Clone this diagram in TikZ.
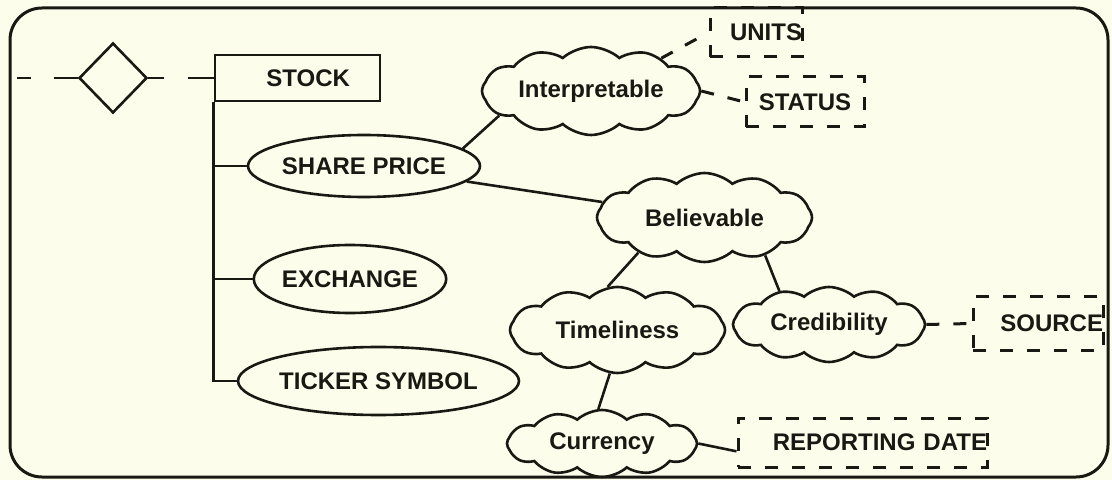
\documentclass[tikz,border=0pt]{standalone}
\usepackage{fontspec}
\setmainfont{Liberation Sans}
\usetikzlibrary{shapes.geometric, shapes.symbols, positioning, calc}
\definecolor{paper}{RGB}{253,253,236}
\definecolor{ink}{RGB}{25,25,20}

\begin{document}
\begin{tikzpicture}[x=0.5pt, y=-0.5pt,
    every node/.style={font=\fontsize{12}{14}\selectfont\bfseries, text=ink},
    entity/.style={draw=ink, line width=1.3pt, inner sep=0pt},
    attr/.style={draw=ink, ellipse, line width=1.3pt, inner sep=0pt},
    blob/.style={draw=ink, cloud, cloud puffs=12, cloud puff arc=85, cloud ignores aspect, line width=1.3pt, inner sep=0pt},
    tag/.style={draw=ink, line width=1.5pt, dash pattern=on 6.5pt off 7pt, inner sep=0pt, align=right},
    link/.style={draw=ink, line width=1.3pt},
    dlink/.style={draw=ink, line width=1.5pt, dash pattern=on 6.5pt off 7pt}]
        % Paper and frame
        \fill[paper] (0,0) rectangle (1112,480);
        \useasboundingbox (0,0) rectangle (1112,480);
        \draw[ink, line width=1.5pt, rounded corners=16pt] (10,8) rectangle (1108,477);

        % Entity with its relationship
        \node[entity, diamond, minimum width=34pt, minimum height=35pt] (rel) at (113,78) {};
        \node[entity, align=right, text width=52.5pt, minimum width=82.5pt, minimum height=23pt] (stock) at (297.5,78) {STOCK};
        \coordinate (lend) at (17,78);
        \draw[link, dash pattern=on 12pt off 11.5pt on 20pt] (rel.west) -- (lend);
        \draw[link, dash pattern=on 8pt off 12pt on 20pt] (rel.east) -- (stock.west);

        % Attributes
        \node[attr, minimum width=109pt, minimum height=31pt] (share) at (364,166) {SHARE PRICE};
        \node[attr, minimum width=90pt, minimum height=34pt] (exch) at (350,279) {EXCHANGE};
        \node[attr, minimum width=118.5pt, minimum height=34pt] (ticker) at (378.5,381) {TICKER SYMBOL};
        \draw[link] (stock.south west) |- (ticker.west);
        \draw[link] (stock.south west |- share.west) -- (share.west);
        \draw[link] (stock.south west |- exch.west) -- (exch.west);

        % Quality clouds
        \node[blob, minimum width=109pt, minimum height=44pt] (interp) at (591,91) {Interpretable};
        \node[blob, minimum width=107.5pt, minimum height=44.5pt] (believ) at (704.5,217.5) {Believable};
        \node[blob, minimum width=107.5pt, minimum height=43pt] (timel) at (617.5,330) {Timeliness};
        \node[blob, minimum width=96pt, minimum height=37.5pt] (cred) at (829,324.5) {Credibility};
        \node[blob, minimum width=95pt, minimum height=33.5pt] (curr) at (602,443.5) {Currency};

        % Quality indicators
        \node[tag, text width=46pt, minimum height=24.5pt] (units) at (756,32.5) {UNITS};
        \node[tag, align=center, text width=59pt, minimum height=25pt] (status) at (805,102) {STATUS};
        \node[tag, text width=65pt, minimum height=26.5pt] (source) at (1038,323.5) {SOURCE};
        \node[tag, text width=124.5pt, minimum height=24.5pt] (report) at (862.5,442.5) {REPORTING DATE};

        % Links
        \draw[link] (share.10) -- (interp.195);
        \draw[link] (share) -- (believ);
        \draw[link] (believ.208) -- (timel.103);
        \draw[link] (believ.328) -- (cred.146);
        \draw[link] (timel.260) -- (curr.96);
        \draw[link] (curr.east) -- (report.184);
        \draw[dlink] (interp.25) -- (units.west);
        \draw[dlink] (interp.east) -- (status.west);
        \draw[dlink] (cred.east) -- (source.west);
    \end{tikzpicture}
\end{document}
